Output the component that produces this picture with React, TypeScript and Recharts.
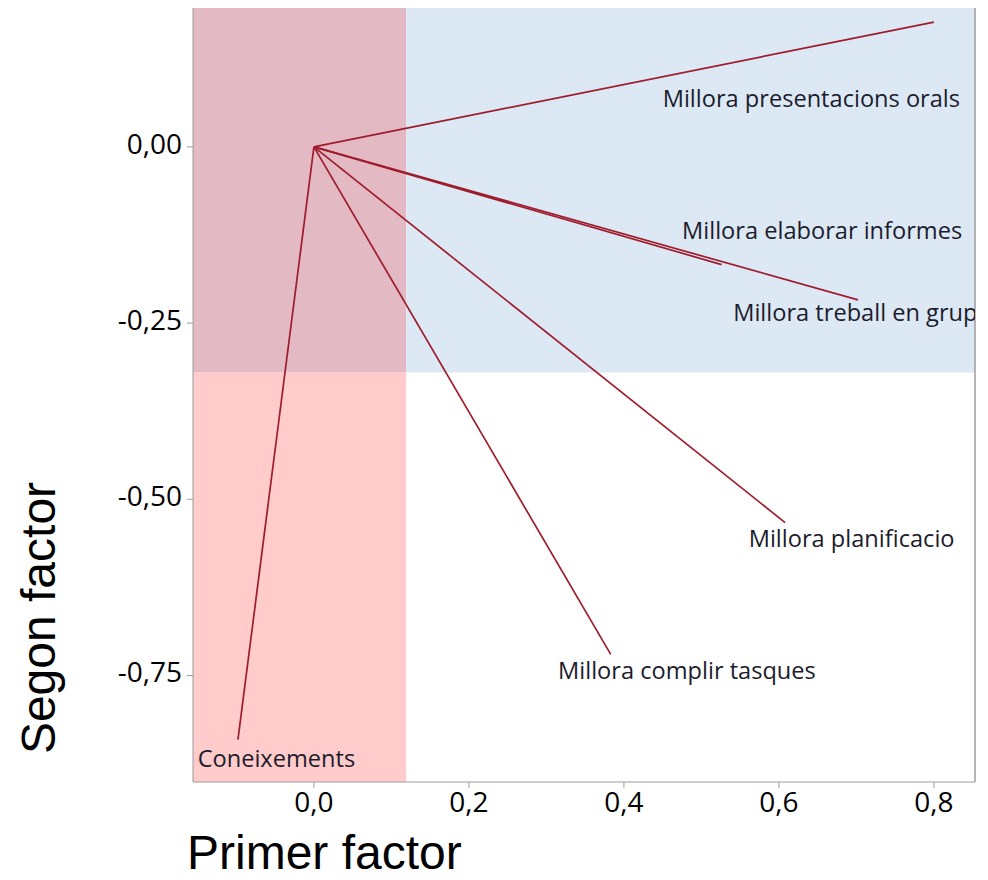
import React from "react";
import {
  ScatterChart,
  Scatter,
  XAxis,
  YAxis,
  ReferenceArea,
  ReferenceLine,
  Label,
} from "recharts";

// loadings of each variable on the two factors
const variables = [
  "Millora presentacions orals",
  "Millora elaborar informes",
  "Millora treball en grup",
  "Millora planificacio",
  "Millora complir tasques",
  "Coneixements",
];
const primerFactor = [0.8, 0.526, 0.702, 0.608, 0.383, -0.098];
const segonFactor = [0.177, -0.167, -0.217, -0.533, -0.72, -0.841];

// where each name is written (data units, text start)
const labelX = [0.45, 0.475, 0.541, 0.561, 0.315, -0.15];
const labelY = [0.0695, -0.118, -0.234, -0.555, -0.742, -0.867];

const xTicks = [0, 0.2, 0.4, 0.6, 0.8];
const yTicks = [0, -0.25, -0.5, -0.75];
const xDomain: [number, number] = [-0.156, 0.853];
const yDomain: [number, number] = [-0.901, 0.197];

// shaded zones
const limitX = 0.119;
const limitY = -0.32;

const labelData = variables.map((name, i) => ({ name, x: labelX[i], y: labelY[i] }));

const tickFont = "'Open Sans', 'Noto Sans', sans-serif";
const lineColor = "#9e1c2b";

const fmtX = (v: number) => v.toFixed(1).replace(".", ",");
const fmtY = (v: number) => v.toFixed(2).replace(".", ",");

const NameLabel = (props: any) => {
  const { cx, cy, payload } = props;
  return (
    <text
      x={cx}
      y={cy}
      dominantBaseline="central"
      fontFamily={tickFont}
      fontSize={23.6}
      fill="#1c1c2c"
    >
      {payload.name}
    </text>
  );
};

export default function App() {
  return (
    <div style={{ position: "absolute", left: 0, top: 0, width: 988, height: 880 }}>
      <ScatterChart
        width={988}
        height={880}
        margin={{ top: 8, right: 13, bottom: 58, left: 113 }}
      >
        <XAxis
          type="number"
          dataKey="x"
          domain={xDomain}
          allowDataOverflow
          ticks={xTicks}
          tickFormatter={fmtX}
          height={40}
          tickSize={6}
          tickMargin={4}
          stroke="#9c9c9c"
          tick={{ fill: "#000", fontSize: 28, fontFamily: tickFont }}
        >
          <Label
            content={() => (
              <text
                x={187}
                y={869}
                fontFamily="'Liberation Sans', Arial, sans-serif"
                fontSize={48}
                fill="#000"
              >
                Primer factor
              </text>
            )}
          />
        </XAxis>
        <YAxis
          type="number"
          dataKey="y"
          domain={yDomain}
          allowDataOverflow
          ticks={yTicks}
          tickFormatter={fmtY}
          width={80}
          tickSize={6}
          tickMargin={5}
          stroke="#9c9c9c"
          tick={{ fill: "#000", fontSize: 28, fontFamily: tickFont, dy: -3 }}
        >
          <Label
            content={() => (
              <text
                x={55}
                y={618}
                transform="rotate(-90 55 618)"
                textAnchor="middle"
                fontFamily="'Liberation Sans', Arial, sans-serif"
                fontSize={48}
                fill="#000"
              >
                Segon factor
              </text>
            )}
          />
        </YAxis>

        <ReferenceArea
          x1={xDomain[0]}
          x2={limitX}
          y1={yDomain[0]}
          y2={limitY}
          fill="#ffcbcb"
          fillOpacity={1}
          stroke="none"
        />
        <ReferenceArea
          x1={xDomain[0]}
          x2={limitX}
          y1={limitY}
          y2={yDomain[1]}
          fill="#e3b9c4"
          fillOpacity={1}
          stroke="none"
        />
        <ReferenceArea
          x1={limitX}
          x2={xDomain[1]}
          y1={limitY}
          y2={yDomain[1]}
          fill="#dde8f5"
          fillOpacity={1}
          stroke="none"
        />
        <ReferenceLine x={xDomain[1]} stroke="#9c9c9c" strokeWidth={1.5} />

        {variables.map((name, i) => (
          <ReferenceLine
            key={name}
            segment={[
              { x: 0, y: 0 },
              { x: primerFactor[i], y: segonFactor[i] },
            ]}
            stroke={lineColor}
            strokeWidth={1.7}
          />
        ))}

        <Scatter data={labelData} shape={NameLabel} isAnimationActive={false} />
      </ScatterChart>
    </div>
  );
}
